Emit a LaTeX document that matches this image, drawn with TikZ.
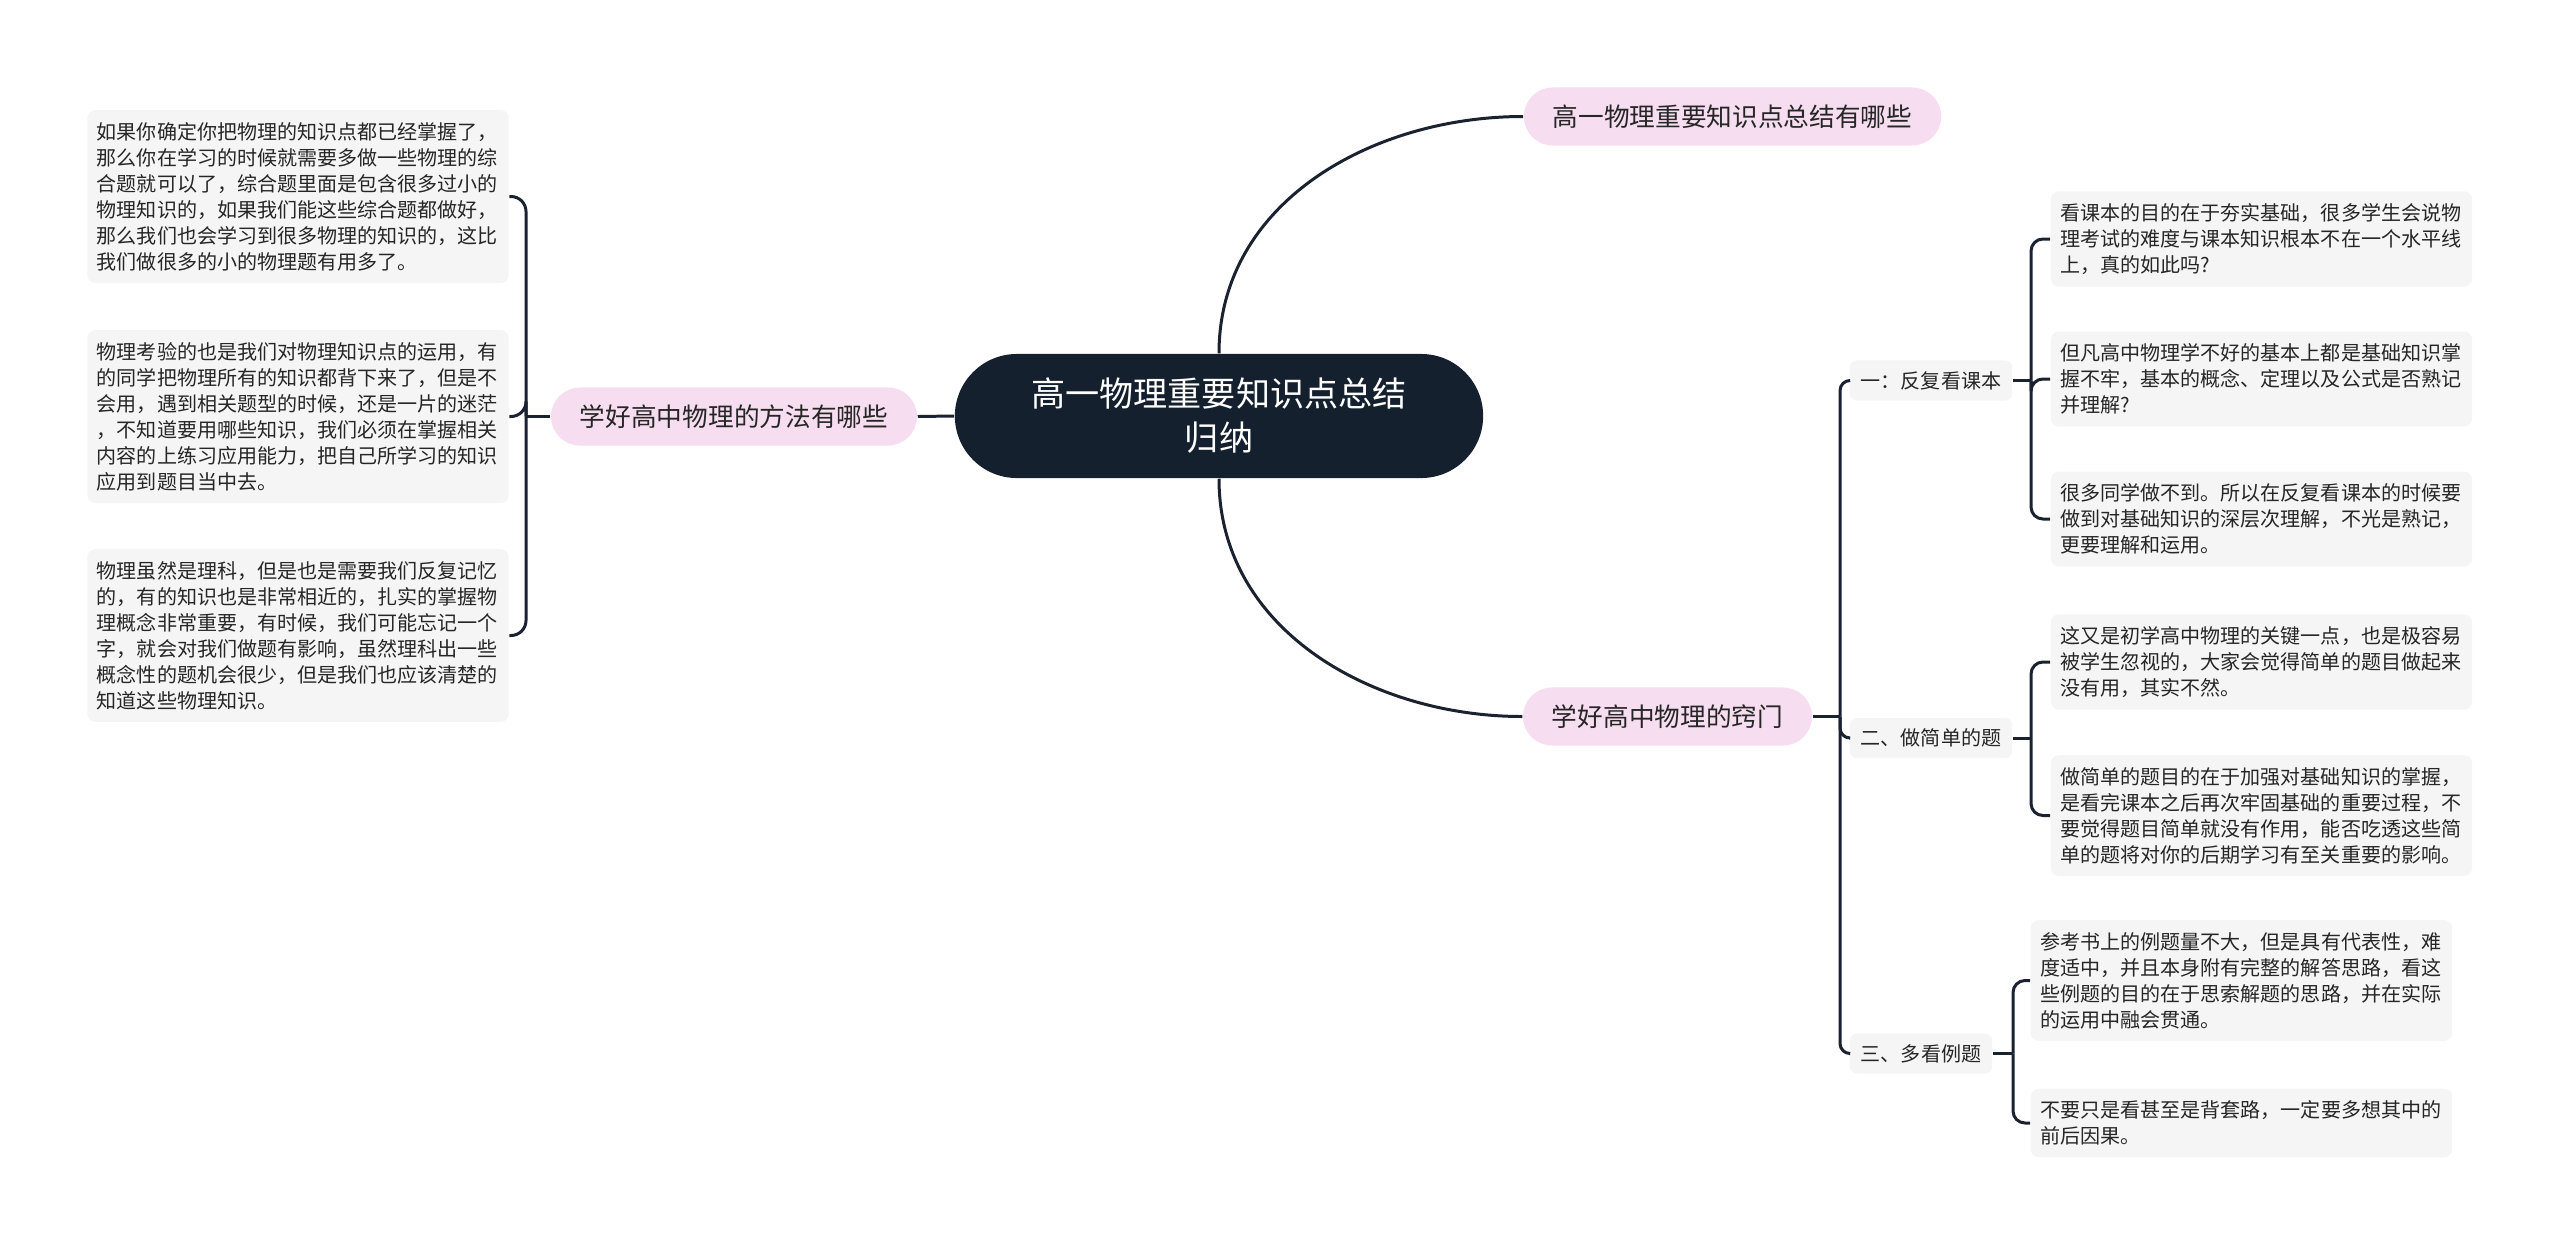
\documentclass[tikz,border=0pt]{standalone}
\usepackage{fontspec}
\setmainfont{Noto Sans CJK SC}
\usepackage{tikz}

\definecolor{navy}{RGB}{21,32,47}
\definecolor{pinkfill}{RGB}{246,222,240}
\definecolor{leafgray}{RGB}{245,245,245}
\definecolor{inkline}{RGB}{26,34,48}

\begin{document}
\begin{tikzpicture}[x=0.01cm, y=-0.01cm,
      root/.style={rectangle, fill=navy, text=white, rounded corners=0.62cm,
                   minimum width=5.28cm, minimum height=1.24cm, align=center,
                   font=\fontsize{9.7pt}{12.5pt}\selectfont},
      topic/.style={rectangle, fill=pinkfill, text=black!85, rounded corners=0.29cm,
                    minimum height=0.58cm, inner xsep=0.29cm, inner ysep=0pt,
                    font=\fontsize{7.3pt}{9pt}\selectfont},
      sub/.style={rectangle, fill=leafgray, text=black!85, rounded corners=0.07cm,
                  minimum height=0.40cm, inner xsep=0.11cm, inner ysep=0pt,
                  font=\fontsize{5.7pt}{7.4pt}\selectfont},
      leaf/.style={rectangle, fill=leafgray, text=black!85, rounded corners=0.08cm,
                   text width=4.02cm, inner xsep=0.095cm, inner ysep=0.12cm, align=left,
                   font=\fontsize{5.7pt}{7.4pt}\selectfont},
      link/.style={draw=inkline, line width=0.85pt, rounded corners=0.15cm}]
    \path[fill=white] (0,0) rectangle (2560,1245);

    \node[root] (core) at (1219,416) {高一物理重要知识点总结\\归纳};

    \node[topic] (ask) at (1732.5,116.5) {高一物理重要知识点总结有哪些};
    \node[topic] (way) at (734,416.5) {学好高中物理的方法有哪些};
    \node[topic] (tip) at (1667.5,716.5) {学好高中物理的窍门};

    % left side
    \node[leaf] (l1) at (298,196.5) {如果你确定你把物理的知识点都已经掌握了，\\那么你在学习的时候就需要多做一些物理的综\\合题就可以了，综合题里面是包含很多过小的\\物理知识的，如果我们能这些综合题都做好，\\那么我们也会学习到很多物理的知识的，这比\\我们做很多的小的物理题有用多了。};
    \node[leaf] (l2) at (298,416.5) {物理考验的也是我们对物理知识点的运用，有\\的同学把物理所有的知识都背下来了，但是不\\会用，遇到相关题型的时候，还是一片的迷茫\\，不知道要用哪些知识，我们必须在掌握相关\\内容的上练习应用能力，把自己所学习的知识\\应用到题目当中去。};
    \node[leaf] (l3) at (298,635.5) {物理虽然是理科，但是也是需要我们反复记忆\\的，有的知识也是非常相近的，扎实的掌握物\\理概念非常重要，有时候，我们可能忘记一个\\字，就会对我们做题有影响，虽然理科出一些\\概念性的题机会很少，但是我们也应该清楚的\\知道这些物理知识。};

    % right side
    \node[sub] (s1) at (1931,380.5) {一：反复看课本};
    \node[sub] (s2) at (1931,738) {二、做简单的题};
    \node[sub] (s3) at (1921,1053.5) {三、多看例题};

    \node[leaf] (r1) at (2261.5,239) {看课本的目的在于夯实基础，很多学生会说物\\理考试的难度与课本知识根本不在一个水平线\\上，真的如此吗?};
    \node[leaf] (r2) at (2261.5,379) {但凡高中物理学不好的基本上都是基础知识掌\\握不牢，基本的概念、定理以及公式是否熟记\\并理解?};
    \node[leaf] (r3) at (2261.5,519) {很多同学做不到。所以在反复看课本的时候要\\做到对基础知识的深层次理解，不光是熟记，\\更要理解和运用。};
    \node[leaf] (r4) at (2261.5,662) {这又是初学高中物理的关键一点，也是极容易\\被学生忽视的，大家会觉得简单的题目做起来\\没有用，其实不然。};
    \node[leaf] (r5) at (2261.5,815.5) {做简单的题目的在于加强对基础知识的掌握，\\是看完课本之后再次牢固基础的重要过程，不\\要觉得题目简单就没有作用，能否吃透这些简\\单的题将对你的后期学习有至关重要的影响。};
    \node[leaf] (r6) at (2241.5,980.5) {参考书上的例题量不大，但是具有代表性，难\\度适中，并且本身附有完整的解答思路，看这\\些例题的目的在于思索解题的思路，并在实际\\的运用中融会贯通。};
    \node[leaf] (r7) at (2241.5,1123) {不要只是看甚至是背套路，一定要多想其中的\\前后因果。};

    % connectors
    \draw[link] (core.north) to[out=90, in=180] (ask.west);
    \draw[link] (core.south) to[out=-90, in=180] (tip.west);
    \draw[link] (core.west) -- (way.east);

    \coordinate (wayj) at (526,416.5);
    \draw[link] (way.west) -- (wayj);
    \foreach \leaf in {l1,l2,l3}
      \draw[link] (wayj) |- (\leaf.east);

    \coordinate (tipj) at (1840,716.5);
    \draw[link] (tip.east) -- (tipj);
    \foreach \leaf in {s1,s2,s3}
      \draw[link, rounded corners=0.1cm] (tipj) |- (\leaf.west);

    \coordinate (s1j) at (2031,380.5);
    \draw[link] (s1.east) -- (s1j);
    \foreach \leaf in {r1,r2,r3}
      \draw[link, rounded corners=0.12cm] (s1j) |- (\leaf.west);

    \coordinate (s2j) at (2031,738);
    \draw[link] (s2.east) -- (s2j);
    \foreach \leaf in {r4,r5}
      \draw[link, rounded corners=0.12cm] (s2j) |- (\leaf.west);

    \coordinate (s3j) at (2013,1053.5);
    \draw[link] (s3.east) -- (s3j);
    \foreach \leaf in {r6,r7}
      \draw[link, rounded corners=0.12cm] (s3j) |- (\leaf.west);
  \end{tikzpicture}
\end{document}
